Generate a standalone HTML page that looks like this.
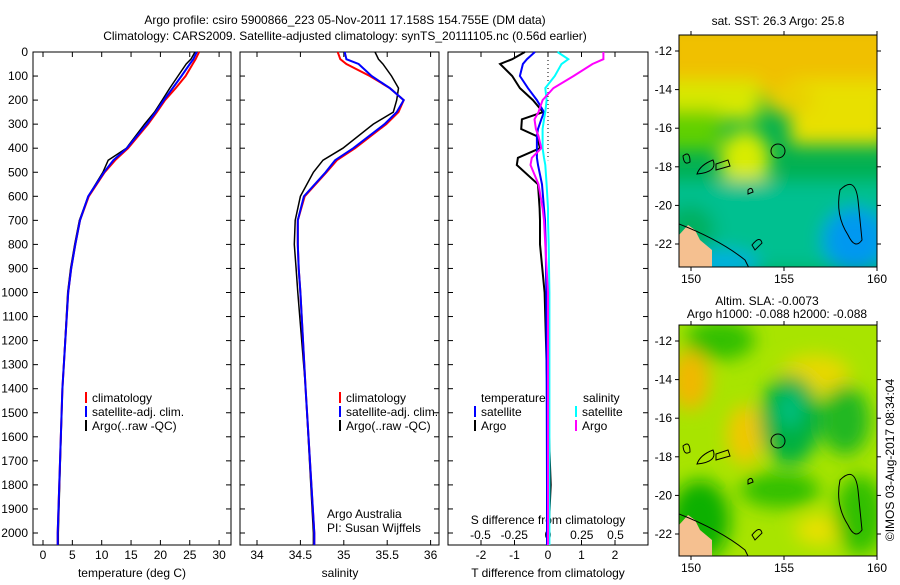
<!DOCTYPE html>
<html><head><meta charset="utf-8"><style>
body{margin:0;background:#fff;}
svg text{font-family:"Liberation Sans",sans-serif;font-size:12px;fill:#000;}
</style></head><body>
<svg id="fig" width="900" height="580" xmlns="http://www.w3.org/2000/svg">
<defs>
<filter id="bl" x="-20%" y="-20%" width="140%" height="140%"><feGaussianBlur stdDeviation="9"/></filter>
<clipPath id="c1"><rect x="679" y="35" width="198" height="232"/></clipPath>
<clipPath id="c2"><rect x="679" y="325" width="198" height="231"/></clipPath>
</defs>
<text x="345" y="24" text-anchor="middle" font-size="13">Argo profile: csiro 5900866_223 05-Nov-2011 17.158S 154.755E (DM data)</text>
<text x="345" y="40" text-anchor="middle" font-size="13">Climatology: CARS2009. Satellite-adjusted climatology: synTS_20111105.nc (0.56d earlier)</text>
<g id="g1"></g>
<g id="g2"></g>
<g id="g3"></g>
<g>
<text x="778" y="25" text-anchor="middle">sat. SST: 26.3 Argo: 25.8</text>
<g clip-path="url(#c1)">
<rect x="679" y="35" width="198" height="232" fill="#00b050"/>
<g filter="url(#bl)">
<rect x="660" y="20" width="240" height="75" fill="#f0c000"/>
<rect x="660" y="80" width="100" height="40" fill="#d8e800"/>
<rect x="790" y="80" width="100" height="65" fill="#e8e000"/>
<rect x="660" y="110" width="60" height="40" fill="#60d000"/>
<ellipse cx="745" cy="160" rx="25" ry="30" fill="#d8ec00"/>
<ellipse cx="790" cy="100" rx="25" ry="15" fill="#e8d000"/>
<rect x="660" y="180" width="240" height="90" fill="#00c090"/>
<ellipse cx="855" cy="240" rx="32" ry="32" fill="#0098f0"/>
<ellipse cx="720" cy="265" rx="40" ry="15" fill="#00b0e0"/>
<ellipse cx="690" cy="230" rx="25" ry="25" fill="#00b060"/>
</g>
<path d="M679,235 L688,225 L695,230 L700,240 L712,250 L712,267 L679,267Z" fill="#f5c090"/>
<g fill="none" stroke="#000" stroke-width="1">
<path d="M679,224 Q720,240 745,260 L750,270"/>
<path d="M840,190 Q855,175 858,200 L862,240 Q855,250 848,235 Q835,215 840,190Z"/>
<path d="M683,156 Q690,150 690,162 Q684,166 683,156Z"/>
<path d="M697,174 Q718,172 713,160 Q700,165 697,174Z"/>
<path d="M716,170 L730,166 L728,160 L716,164Z"/>
<circle cx="778" cy="151" r="7"/>
<path d="M748,190 Q752,186 753,192 L748,194Z"/>
<path d="M752,245 Q760,235 762,243 L755,250Z"/>
</g>
</g>
<rect x="679" y="35" width="198" height="232" fill="none" stroke="#000"/>
</g>
<g>
<text x="767" y="305" text-anchor="middle">Altim. SLA: -0.0073</text>
<text x="777" y="318" text-anchor="middle">Argo h1000: -0.088 h2000: -0.088</text>
<g clip-path="url(#c2)">
<rect x="679" y="325" width="198" height="231" fill="#a8e400"/>
<g filter="url(#bl)">
<ellipse cx="720" cy="340" rx="35" ry="20" fill="#30c000"/>
<ellipse cx="690" cy="380" rx="20" ry="30" fill="#f0b800"/>
<ellipse cx="745" cy="435" rx="18" ry="30" fill="#f0c800"/>
<ellipse cx="815" cy="375" rx="35" ry="20" fill="#e8d800"/>
<ellipse cx="790" cy="420" rx="30" ry="45" fill="#00b040"/>
<ellipse cx="790" cy="410" rx="12" ry="18" fill="#00c080"/>
<ellipse cx="845" cy="420" rx="25" ry="35" fill="#20b820"/>
<ellipse cx="780" cy="490" rx="40" ry="18" fill="#30c000"/>
<ellipse cx="820" cy="530" rx="25" ry="15" fill="#e8e000"/>
<ellipse cx="700" cy="520" rx="30" ry="40" fill="#10b000"/>
<ellipse cx="860" cy="515" rx="25" ry="40" fill="#30c000"/>
</g>
<path d="M679,525 L688,515 L695,520 L700,530 L712,540 L712,556 L679,556Z" fill="#f5c090"/>
<g fill="none" stroke="#000" stroke-width="1">
<path d="M679,514 Q720,530 745,550 L750,560"/>
<path d="M840,480 Q855,465 858,490 L862,530 Q855,540 848,525 Q835,505 840,480Z"/>
<path d="M683,446 Q690,440 690,452 Q684,456 683,446Z"/>
<path d="M697,464 Q718,462 713,450 Q700,455 697,464Z"/>
<path d="M716,460 L730,456 L728,450 L716,454Z"/>
<circle cx="778" cy="441" r="7"/>
<path d="M748,480 Q752,476 753,482 L748,484Z"/>
<path d="M752,535 Q760,525 762,533 L755,540Z"/>
</g>
</g>
<rect x="679" y="325" width="198" height="231" fill="none" stroke="#000"/>
</g>
<text transform="translate(894,460) rotate(-90)" text-anchor="middle">©IMOS 03-Aug-2017 08:34:04</text>
<g id="maxes"></g>
</svg>
<script>
// ---- profile data (depth in dbar) ----
const depths    = [0,30,50,100,150,200,250,300,400,450,500,600,700,800,900,1000,1400,2000,2050];
const tempClim  = [26.6,26.0,25.5,24.3,22.6,20.8,19.4,17.9,14.5,12.3,10.5,7.8,6.3,5.5,4.8,4.3,3.3,2.5,2.5];
const tempSat   = [26.2,25.6,25.0,23.6,22.1,20.6,19.2,17.7,14.3,12.0,10.4,7.7,6.3,5.5,4.8,4.3,3.3,2.5,2.5];
const tempArgo  = [25.9,25.2,24.4,23.0,21.6,20.3,19.0,17.3,14.2,11.1,10.2,7.7,6.2,5.4,4.7,4.2,3.3,2.6,2.6];
const salClim   = [34.93,34.96,35.03,35.30,35.53,35.69,35.63,35.49,35.13,34.92,34.80,34.55,34.47,34.47,34.48,34.50,34.56,34.66,34.66];
const salSat    = [35.01,35.03,35.17,35.32,35.53,35.69,35.61,35.47,35.11,34.90,34.79,34.54,34.47,34.47,34.48,34.50,34.56,34.66,34.66];
const salArgo   = [35.36,35.40,35.45,35.55,35.63,35.61,35.57,35.34,34.99,34.76,34.65,34.50,34.44,34.43,34.45,34.47,34.56,34.65,34.65];
const diffDepths = [0,30,50,100,150,200,250,280,320,350,400,440,470,550,650,700,800,1000,1400,1800,2050];
const dTSat  = [-0.39,-0.63,-0.75,-0.84,-0.6,-0.33,-0.12,-0.2,-0.3,-0.33,-0.33,-0.33,-0.3,-0.18,-0.12,-0.09,-0.07,-0.05,-0.04,-0.03,-0.03];
const dTArgo = [-0.69,-1.07,-1.43,-1.07,-0.84,-0.45,-0.15,-0.78,-0.8,-0.33,-0.24,-0.9,-0.93,-0.3,-0.25,-0.24,-0.24,-0.1,-0.02,0.08,0.0];
const dSSat  = [0.07,0.15,0.1,0.05,-0.02,-0.01,-0.02,-0.03,-0.04,-0.04,-0.04,-0.03,-0.02,-0.01,0.0,0.0,0.005,0.01,0.01,0.01,0.01];
const dSArgo = [0.41,0.41,0.33,0.19,0.04,-0.04,-0.07,-0.1,-0.09,-0.07,-0.05,-0.12,-0.13,-0.07,-0.04,-0.03,-0.02,0.0,0.0,0.0,0.0];
const depthTicks = [0,100,200,300,400,500,600,700,800,900,1000,1100,1200,1300,1400,1500,1600,1700,1800,1900,2000];
const tempTicks = [0,5,10,15,20,25,30];
const salTicks = [34,34.5,35,35.5,36];
const tdTicks = [-2,-1,0,1,2];
const sdTicks = [-0.5,-0.25,0,0.25,0.5];
const lonTicks = [150,155,160];
const latTicks = [-12,-14,-16,-18,-20,-22];

const NS='http://www.w3.org/2000/svg';
function mk(tag,attrs,parent,txt){const e=document.createElementNS(NS,tag);for(const k in attrs)e.setAttribute(k,attrs[k]);if(txt!==undefined)e.textContent=txt;parent.appendChild(e);return e;}
const yD = d => 52 + 0.2405*d;
const xT = t => 43 + 5.87*t;
const xS = s => 257 + 86.8*(s-34);
const xTD = t => 548 + 33.5*t;
const xSD = s => 548 + 135*s;
const PT=52, PB=545;

function panel(g,x0,x1,name){
  const r=mk('rect',{x:x0,y:PT,width:x1-x0,height:PB-PT,fill:'none',stroke:'#000'},g);
  
  
  depthTicks.forEach(d=>{
    const y=yD(d);
    mk('line',{x1:x0,x2:x0+5,y1:y,y2:y,stroke:'#000'},g);
    mk('line',{x1:x1-5,x2:x1,y1:y,y2:y,stroke:'#000'},g);
  });
}
function xticks(g,vals,f,labels,ly){
  vals.forEach((v,i)=>{
    const x=f(v);
    mk('line',{x1:x,x2:x,y1:PT,y2:PT+5,stroke:'#000'},g);
    mk('line',{x1:x,x2:x,y1:PB-5,y2:PB,stroke:'#000'},g);
    const t=mk('text',{x:x,y:ly,'text-anchor':'middle'},g,labels[i]);
    
    
  });
}
function line(g,xs,ds,f,color,name,w){
  const pts=xs.map((v,i)=>f(v).toFixed(1)+','+yD(ds[i]).toFixed(1)).join(' ');
  const p=mk('polyline',{points:pts,fill:'none',stroke:color,'stroke-width':w||2},g);
  
  
}
function legend(g,x,y,color,label){
  const l=mk('line',{x1:x,x2:x,y1:y-10,y2:y+1,stroke:color,'stroke-width':2},g);
  
  
  const t=mk('text',{x:x+6,y:y},g,label);
  
  
}
const g1=document.getElementById('g1'),g2=document.getElementById('g2'),g3=document.getElementById('g3');
depthTicks.forEach(d=>{
  const t=mk('text',{x:28,y:yD(d)+4,'text-anchor':'end'},g1,String(d));
  
  
});
panel(g1,33,231,'temperature');
xticks(g1,tempTicks,xT,tempTicks.map(String),559);
let t=mk('text',{x:132,y:577,'text-anchor':'middle'},g1,'temperature (deg C)');


line(g1,tempArgo,depths,xT,'#000000','temp-argo-line',1.5);
line(g1,tempClim,depths,xT,'#ff0000','temp-climatology-line');
line(g1,tempSat,depths,xT,'#0000ff','temp-satellite-line');
legend(g1,86,402,'#ff0000','climatology');
legend(g1,86,416,'#0000ff','satellite-adj. clim.');
legend(g1,86,430,'#000','Argo(..raw -QC)');

panel(g2,240,439,'salinity');
xticks(g2,salTicks,xS,['34','34.5','35','35.5','36'],559);
t=mk('text',{x:340,y:577,'text-anchor':'middle'},g2,'salinity');


line(g2,salArgo,depths,xS,'#000000','sal-argo-line',1.5);
line(g2,salClim,depths,xS,'#ff0000','sal-climatology-line');
line(g2,salSat,depths,xS,'#0000ff','sal-satellite-line');
legend(g2,340,402,'#ff0000','climatology');
legend(g2,340,416,'#0000ff','satellite-adj. clim.');
legend(g2,340,430,'#000','Argo(..raw -QC)');
t=mk('text',{x:327,y:518},g2,'Argo Australia');


t=mk('text',{x:327,y:532},g2,'PI: Susan Wijffels');



panel(g3,448,648,'difference');
xticks(g3,tdTicks,xTD,tdTicks.map(String),559);
sdTicks.forEach((v,i)=>{
  const tx=mk('text',{x:xSD(v),y:539,'text-anchor':'middle'},g3,String(v));
  
  
});
t=mk('text',{x:548,y:524,'text-anchor':'middle'},g3,'S difference from climatology');


t=mk('text',{x:548,y:577,'text-anchor':'middle'},g3,'T difference from climatology');


const z=mk('line',{x1:548,x2:548,y1:PT,y2:yD(450),stroke:'#000','stroke-dasharray':'1,3'},g3);


line(g3,dTArgo,diffDepths,xTD,'#000000','t-diff-argo-line');
line(g3,dTSat,diffDepths,xTD,'#0000ff','t-diff-satellite-line');
line(g3,dSSat,diffDepths,xSD,'#00ffff','s-diff-satellite-line');
line(g3,dSArgo,diffDepths,xSD,'#ff00ff','s-diff-argo-line');
t=mk('text',{x:481,y:402},g3,'temperature');


t=mk('text',{x:583,y:402},g3,'salinity');


legend(g3,475,416,'#0000ff','satellite');
legend(g3,475,430,'#000','Argo');
legend(g3,576,416,'#00ffff','satellite');
legend(g3,576,430,'#ff00ff','Argo');

const ga=document.getElementById('maxes');
const lonX = l => 691 + 18.6*(l-150);
function mapAxes(top,bot,lat12){
  lonTicks.forEach(l=>{
    const x=lonX(l);
    mk('line',{x1:x,x2:x,y1:top-4,y2:top,stroke:'#000'},ga);
    mk('line',{x1:x,x2:x,y1:bot,y2:bot+4,stroke:'#000'},ga);
    const tx=mk('text',{x:x,y:bot+16,'text-anchor':'middle'},ga,String(l));
    
    
  });
  latTicks.forEach(la=>{
    const y=lat12 + 19.3*(-12-la);
    mk('line',{x1:675,x2:679,y1:y,y2:y,stroke:'#000'},ga);
    mk('line',{x1:877,x2:881,y1:y,y2:y,stroke:'#000'},ga);
    const tx=mk('text',{x:672,y:y+4,'text-anchor':'end'},ga,String(la));
    
    
  });
}
mapAxes(35,267,51);
mapAxes(325,556,341);
</script>
</body></html>
